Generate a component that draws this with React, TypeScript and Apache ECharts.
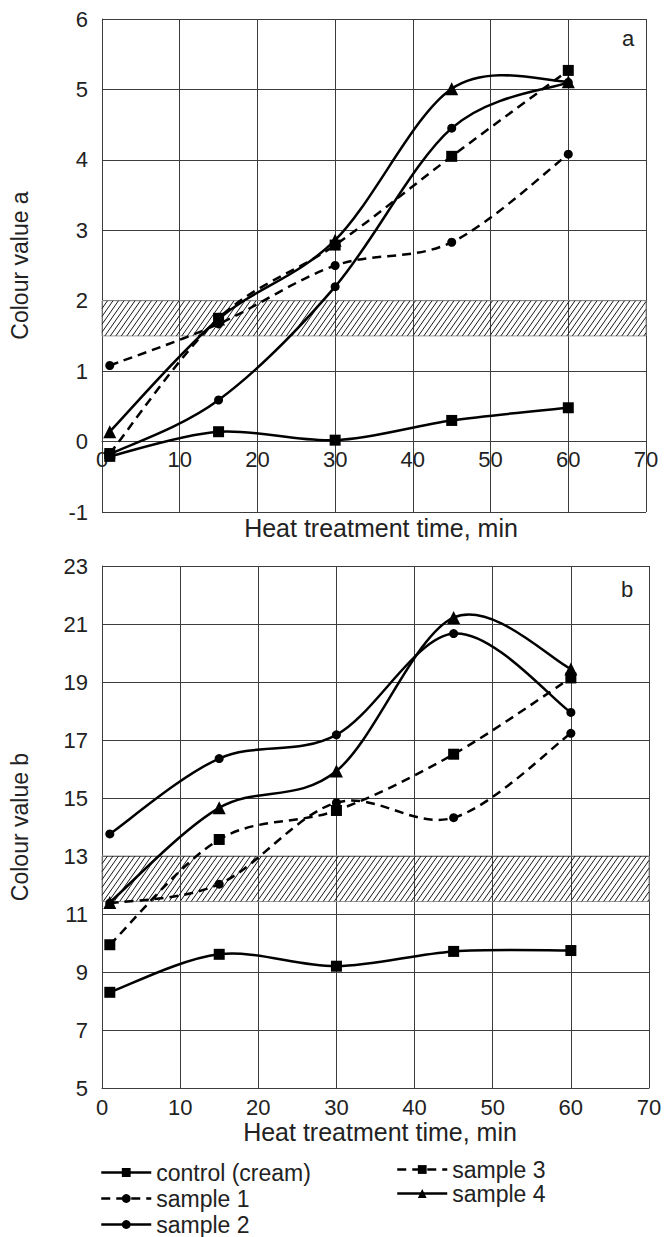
import React, { useEffect, useRef } from "react";
import * as echarts from "echarts";

// ---------- data ----------
const times = [1, 15, 30, 45, 60];
const seriesNames = ["control (cream)", "sample 1", "sample 2", "sample 3", "sample 4"];

const aControl = [-0.21, 0.14, 0.02, 0.3, 0.48];
const aSample1 = [1.08, 1.67, 2.5, 2.83, 4.08];
const aSample2 = [-0.18, 0.59, 2.2, 4.45, 5.1];
const aSample3 = [-0.17, 1.75, 2.79, 4.05, 5.27];
const aSample4 = [0.14, 1.74, 2.86, 5.01, 5.11];

const bControl = [8.3, 9.61, 9.2, 9.71, 9.74];
const bSample1 = [11.37, 12.03, 14.84, 14.32, 17.23];
const bSample2 = [13.76, 16.36, 17.18, 20.67, 17.95];
const bSample3 = [9.94, 13.57, 14.57, 16.51, 19.14];
const bSample4 = [11.4, 14.66, 15.93, 21.22, 19.45];

const aBand = [1.5, 2.0];
const bBand = [11.43, 13.0];

const xRange = [0, 70, 10];
const aYRange = [-1, 6, 1];
const bYRange = [5, 23, 2];

const xTitle = "Heat treatment time, min";
const aTitle = "Colour value a";
const bTitle = "Colour value b";
const panelLetters = ["a", "b"];

// ---------- styles ----------
const FONT = "Liberation Sans, Arial, sans-serif";
const TXT = "#222";
const GRID = "#3c3c3c";
const DASH = [9, 6];

const TOP_GRID = { left: 101, top: 19, right: 19, height: 493 };
const BOTTOM_GRID = { left: 101, top: 566, right: 16, height: 522 };

const styleDefs = [
  { dashed: false, symbol: "rect", size: 11 },
  { dashed: true, symbol: "circle", size: 9 },
  { dashed: false, symbol: "circle", size: 9 },
  { dashed: true, symbol: "rect", size: 11 },
  { dashed: false, symbol: "triangle", size: 13 },
];

// Excel-like (Catmull-Rom) smoothed curve through the points
const CurveShape = (echarts.graphic as any).extendShape({
  shape: { points: [] as number[][] },
  buildPath(ctx: any, shape: any) {
    const pts = shape.points as number[][];
    const n = pts.length;
    if (!n) return;
    ctx.moveTo(pts[0][0], pts[0][1]);
    for (let i = 0; i < n - 1; i++) {
      const p0 = pts[Math.max(0, i - 1)];
      const p1 = pts[i];
      const p2 = pts[i + 1];
      const p3 = pts[Math.min(n - 1, i + 2)];
      ctx.bezierCurveTo(
        p1[0] + (p2[0] - p0[0]) / 6,
        p1[1] + (p2[1] - p0[1]) / 6,
        p2[0] - (p3[0] - p1[0]) / 6,
        p2[1] - (p3[1] - p1[1]) / 6,
        p2[0],
        p2[1]
      );
    }
  },
});
(echarts.graphic as any).registerShape("excelCurve", CurveShape);

function curveRender(dashed: boolean) {
  return (params: any, api: any) => {
    if (params.dataIndexInside !== 0) return { type: "group", children: [] };
    const n = params.dataInsideLength;
    const pts: number[][] = [];
    for (let i = 0; i < n; i++) pts.push(api.coord([api.value(0, i), api.value(1, i)]));
    return {
      type: "excelCurve",
      shape: { points: pts },
      style: { fill: "none", stroke: "#000", lineWidth: 2.5, lineDash: dashed ? DASH : null },
    };
  };
}

function hatchRender(params: any, api: any) {
  const tl = api.coord([api.value(0), api.value(3)]);
  const br = api.coord([api.value(1), api.value(2)]);
  const x0 = tl[0], x1 = br[0], yt = tl[1], yb = br[1];
  const h = yb - yt;
  const w = h / Math.tan((55 * Math.PI) / 180);
  const step = 5.5;
  const children: any[] = [];
  children.push({
    type: "rect",
    shape: { x: x0, y: yt, width: x1 - x0, height: h },
    style: { fill: "none", stroke: "#9a9a9a", lineWidth: 1 },
  });
  for (let b = x0 - w; b < x1; b += step) {
    const tMin = Math.max(0, (x0 - b) / w);
    const tMax = Math.min(1, (x1 - b) / w);
    if (tMax <= tMin) continue;
    children.push({
      type: "line",
      shape: { x1: b + w * tMin, y1: yb - h * tMin, x2: b + w * tMax, y2: yb - h * tMax },
      style: { stroke: "#1a1a1a", lineWidth: 1 },
    });
  }
  return { type: "group", children };
}

function makeSeries(sets: number[][], idx: number) {
  const out: any[] = [];
  sets.forEach((vals, i) => {
    const data = times.map((t, k) => [t, vals[k]]);
    out.push({
      type: "custom",
      xAxisIndex: idx,
      yAxisIndex: idx,
      silent: true,
      clip: false,
      z: 2,
      renderItem: curveRender(styleDefs[i].dashed),
      encode: { x: 0, y: 1 },
      data,
    });
    out.push({
      name: seriesNames[i],
      type: "line",
      xAxisIndex: idx,
      yAxisIndex: idx,
      data,
      symbol: styleDefs[i].symbol,
      symbolSize: styleDefs[i].size,
      showSymbol: true,
      z: 3,
      lineStyle: { color: "#000", width: 2.5, type: styleDefs[i].dashed ? DASH : "solid", opacity: 0 },
      itemStyle: { color: "#000", borderWidth: 0 },
      emphasis: { disabled: true },
    });
  });
  return out;
}

function makeBand(band: number[], idx: number) {
  return {
    type: "custom",
    xAxisIndex: idx,
    yAxisIndex: idx,
    silent: true,
    z: 1,
    clip: false,
    renderItem: hatchRender,
    encode: { x: [0, 1], y: [2, 3] },
    data: [[xRange[0], xRange[1], band[0], band[1]]],
  };
}

const axisLabelStyle = { color: TXT, fontSize: 22, fontFamily: FONT };
const nameStyle = { color: TXT, fontSize: 23, fontFamily: FONT };

// x axis crosses the y axis at value 0 (like the original), or at the bottom if 0 is out of range
function xAxisDef(idx: number, margin: number, yRange: number[], gridHeight: number) {
  const crossesZero = yRange[0] < 0 && yRange[1] > 0;
  const offset = crossesZero ? -(gridHeight * (0 - yRange[0])) / (yRange[1] - yRange[0]) : 0;
  return {
    type: "value",
    gridIndex: idx,
    min: xRange[0],
    max: xRange[1],
    interval: xRange[2],
    offset,
    axisLine: { show: true, onZero: false, lineStyle: { color: GRID, width: 1 } },
    axisTick: { show: false },
    axisLabel: { ...axisLabelStyle, margin },
    splitLine: { show: true, lineStyle: { color: GRID, width: 1 } },
  };
}

function yAxisDef(idx: number, range: number[], title: string) {
  return {
    type: "value",
    gridIndex: idx,
    min: range[0],
    max: range[1],
    interval: range[2],
    axisLine: { show: true, onZero: false, lineStyle: { color: GRID, width: 1 } },
    axisTick: { show: false },
    axisLabel: { ...axisLabelStyle, margin: 14 },
    splitLine: { show: true, lineStyle: { color: GRID, width: 1 } },
    name: title,
    nameLocation: "middle",
    nameGap: 71,
    nameRotate: 90,
    nameTextStyle: nameStyle,
  };
}

function textEl(text: string, x: number, y: number, size: number) {
  return {
    type: "text",
    x,
    y,
    style: { text, font: `${size}px ${FONT}`, fill: TXT, align: "center", verticalAlign: "middle" },
  };
}

export default function App() {
  const ref = useRef<HTMLDivElement>(null);
  useEffect(() => {
    if (!ref.current) return;
    const chart = echarts.init(ref.current, undefined, { renderer: "svg" });
    const legendText = { color: TXT, fontSize: 23, lineHeight: 23, fontFamily: FONT };
    const legendBase = {
      orient: "vertical",
      height: 150,
      itemWidth: 50,
      itemHeight: 11,
      selectedMode: false,
      textStyle: legendText,
      lineStyle: { color: "#000", width: 2.5, opacity: 1 },
    };
    chart.setOption({
      animation: false,
      backgroundColor: "#fff",
      grid: [TOP_GRID, BOTTOM_GRID],
      xAxis: [
        xAxisDef(0, 7, aYRange, TOP_GRID.height),
        xAxisDef(1, 8, bYRange, BOTTOM_GRID.height),
      ],
      yAxis: [yAxisDef(0, aYRange, aTitle), yAxisDef(1, bYRange, bTitle)],
      legend: [
        { ...legendBase, data: seriesNames.slice(0, 3), left: 95, top: 1156, itemGap: 3 },
        { ...legendBase, data: seriesNames.slice(3), left: 391, top: 1153, itemGap: 1 },
      ],
      graphic: [
        textEl(panelLetters[0], 628, 38, 22),
        textEl(panelLetters[1], 627, 589, 22),
        textEl(xTitle, 381, 528, 25),
        textEl(xTitle, 380, 1132, 25),
      ],
      series: [
        makeBand(aBand, 0),
        makeBand(bBand, 1),
        ...makeSeries([aControl, aSample1, aSample2, aSample3, aSample4], 0),
        ...makeSeries([bControl, bSample1, bSample2, bSample3, bSample4], 1),
      ],
    });
    return () => chart.dispose();
  }, []);
  return (
    <div
      ref={ref}
      style={{ position: "absolute", left: 0, top: 0, width: 665, height: 1237, background: "#fff" }}
    />
  );
}
